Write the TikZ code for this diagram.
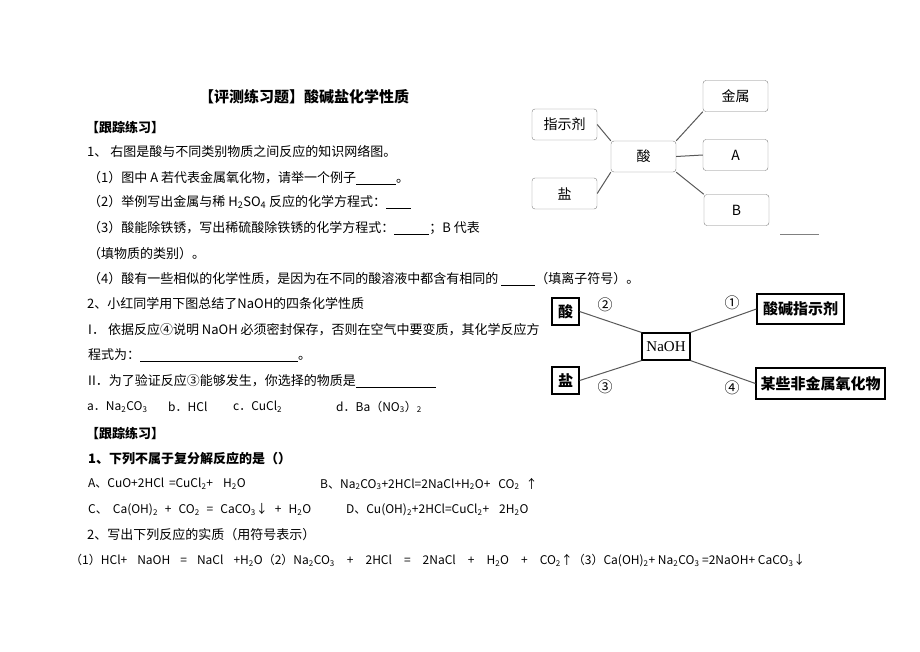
\documentclass[tikz,border=0pt]{standalone}
\usepackage{fontspec}
\newfontfamily\cjk{Noto Sans CJK SC}
\newfontfamily\tnr{Liberation Serif}
\newcommand\fillin[1]{\rule[-2pt]{#1pt}{0.5pt}}
\newcommand\gap[1]{\hspace{#1pt}}
\tikzset{
	line/.style={anchor=west,inner sep=0pt,font=\cjk\fontsize{13}{15}\selectfont},
	eqn/.style={anchor=west,inner sep=0pt,font=\cjk\fontsize{12}{14}\selectfont},
	head/.style={anchor=west,inner sep=0pt,font=\cjk\bfseries\fontsize{13}{15}\selectfont},
	rbox/.style={draw=gray,rounded corners=3pt,minimum width=65pt,minimum height=31pt,font=\cjk\fontsize{14}{16}\selectfont},
	sbox/.style={draw,line width=1.2pt,inner sep=2pt,minimum height=27pt,font=\cjk\bfseries\fontsize{15}{17}\selectfont},
	link/.style={draw=gray!70!black,line width=1pt},
	num/.style={font=\cjk\fontsize{15}{17}\selectfont}
}

\begin{document}
\begin{tikzpicture}[x=1pt,y=-1pt]
	\useasboundingbox [fill=white] (0,0) rectangle (920,651);

	\node [head,anchor=center,font=\cjk\bfseries\fontsize{15}{17}\selectfont] (title) at (304,97) {【评测练习题】酸碱盐化学性质};
	\node [head] (hd1) at (86,127) {【跟踪练习】};
	\node [line] (q1) at (87,152) {1、 右图是酸与不同类别物质之间反应的知识网络图。};
	\node [line] (q1a) at (88,178) {（1）图中 A 若代表金属氧化物，请举一个例子\fillin{40}。};
	\node [line] (q1b) at (88,202) {（2）举例写出金属与稀 H\textsubscript{2}SO\textsubscript{4} 反应的化学方程式：\fillin{25}};
	\node [line] (q1c) at (88,228) {（3）酸能除铁锈，写出稀硫酸除铁锈的化学方程式：\fillin{35}；B 代表};
	\node [line] (q1c2) at (88,254) {（填物质的类别）。};
	\node [line] (q1d) at (88,279) {（4）酸有一些相似的化学性质，是因为在不同的酸溶液中都含有相同的 \fillin{34}（填离子符号）。};
	\node [line] (q2) at (87,304) {2、小红同学用下图总结了NaOH的四条化学性质};
	\node [line] (q2a) at (88,330) {I．\gap{3}依据反应④说明 NaOH 必须密封保存，否则在空气中要变质，其化学反应方};
	\node [line] (q2a2) at (88,355) {程式为：\fillin{158}。};
	\node [line] (q2b) at (88,381) {II．为了验证反应③能够发生，你选择的物质是\fillin{80}};
	\node [eqn] (opta) at (87,407) {a．Na\textsubscript{2}CO\textsubscript{3}};
	\node [eqn] (optb) at (168,407) {b．HCl};
	\node [eqn] (optc) at (233,407) {c．CuCl\textsubscript{2}};
	\node [eqn] (optd) at (336,407) {d．Ba（NO\textsubscript{3}）\textsubscript{2}};
	\node [head] (hd2) at (86,433) {【跟踪练习】};
	\node [head] (p1) at (88,459) {1、下列不属于复分解反应的是（）};
	\node [eqn] (p1a) at (88,484) {A、CuO+2HCl \gap{2}=CuCl\textsubscript{2}+\gap{10}H\textsubscript{2}O};
	\node [eqn] (p1b) at (320,484) {B、Na\textsubscript{2}CO\textsubscript{3}+2HCl=2NaCl+H\textsubscript{2}O+\gap{8}CO\textsubscript{2}\gap{6}↑};
	\node [eqn] (p1c) at (88,510) {C、\gap{5}Ca(OH)\textsubscript{2}\gap{7}+\gap{7}CO\textsubscript{2}\gap{7}=\gap{7}CaCO\textsubscript{3}↓\gap{7}+\gap{7}H\textsubscript{2}O};
	\node [eqn] (p1d) at (346,510) {D、Cu(OH)\textsubscript{2}+2HCl=CuCl\textsubscript{2}+\gap{10}2H\textsubscript{2}O};
	\node [line] (p2) at (87,535) {2、写出下列反应的实质（用符号表示）};
	\node [eqn] (p2a) at (70,561) {（1）HCl+\gap{10}NaOH\gap{10}=\gap{10}NaCl\gap{10}+H\textsubscript{2}O（2）Na\textsubscript{2}CO\textsubscript{3}\gap{12}+\gap{12}2HCl\gap{12}=\gap{12}2NaCl\gap{12}+\gap{12}H\textsubscript{2}O\gap{12}+\gap{12}CO\textsubscript{2}↑（3）Ca(OH)\textsubscript{2}+ Na\textsubscript{2}CO\textsubscript{3} =2NaOH+ CaCO\textsubscript{3}↓};

	\node [rbox] (zhi) at (564.5,124.5) {指示剂};
	\node [rbox] (yan) at (564.5,193.5) {盐};
	\node [rbox] (suan) at (643.5,156.5) {酸};
	\node [rbox] (jin) at (735.5,96) {金属};
	\node [rbox] (A) at (735.5,155) {A};
	\node [rbox] (B) at (736.5,210) {B};
	\coordinate (bl) at (780,234);
	\coordinate (br) at (819,234);
	\draw [gray] (bl) -- (br);

	\draw [link] (zhi.east) -- (suan.north west);
	\draw [link] (yan.east) -- (suan.south west);
	\draw [link] (jin.south west) -- (suan.north east);
	\draw [link] (suan.east) -- (A.west);
	\draw [link] (suan.south east) -- (B.north west);

	\node [sbox,minimum width=27pt] (suan2) at (565.5,311.5) {酸};
	\node [sbox,minimum width=27pt] (yan2) at (565.5,380.5) {盐};
	\node [sbox,minimum width=48pt,font=\tnr\fontsize{15}{17}\selectfont] (naoh) at (666,346.5) {NaOH};
	\node [sbox,minimum width=87pt,minimum height=30pt] (ind) at (800.5,309) {酸碱指示剂};
	\node [sbox,minimum width=129pt,minimum height=31pt] (oxi) at (820.5,383.5) {某些非金属氧化物};

	\draw [link] (suan2.east) -- (naoh.north west);
	\draw [link] (ind.west) -- (naoh.north east);
	\draw [link] (yan2.east) -- (naoh.south west);
	\draw [link] (oxi.west) -- (naoh.south east);

	\node [num] (n1) at (732,303) {①};
	\node [num] (n2) at (605,305) {②};
	\node [num] (n3) at (605,387) {③};
	\node [num] (n4) at (732,388) {④};
\end{tikzpicture}
\end{document}
